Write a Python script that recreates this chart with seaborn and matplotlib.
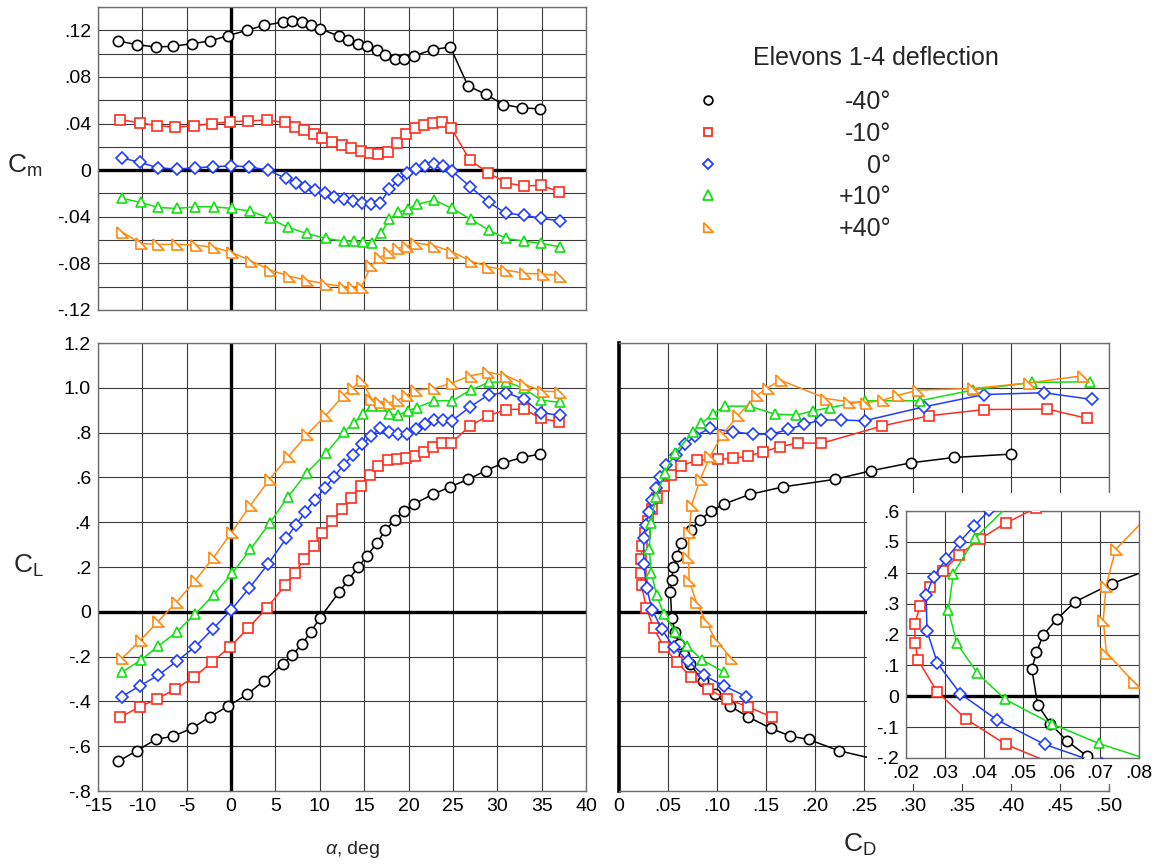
import numpy as np
import pandas as pd
import matplotlib
matplotlib.use("Agg")
import matplotlib.pyplot as plt
from matplotlib.ticker import MultipleLocator, FuncFormatter
from matplotlib.patches import Rectangle
import seaborn as sns

# ---------------------------------------------------------------- data
deflections = ["-40°", "-10°", "0°", "+10°", "+40°"]

alpha_m40 = [-12.7, -10.6, -8.5, -6.5, -4.4, -2.4, -0.3, 1.8, 3.7, 5.8, 6.9, 8.0, 9.0, 10.0,
             12.2, 13.2, 14.3, 15.3, 16.4, 17.4, 18.5, 19.5, 20.6, 22.7, 24.7, 26.7, 28.7,
             30.7, 32.8, 34.8]
cm_m40 = [.1108, .1077, .1057, .1063, .1086, .1108, .1155, .1200, .1243, .1269, .1277, .1269,
          .1243, .1214, .1149, .1114, .1086, .1063, .1029, .0986, .0957, .0957, .0980, .1034,
          .1057, .0723, .0651, .0563, .0534, .0526]
cl_m40 = [-.667, -.620, -.570, -.555, -.520, -.469, -.420, -.369, -.308, -.233, -.193, -.144,
          -.089, -.028, .089, .142, .198, .249, .305, .365, .412, .451, .481, .524, .558, .591,
          .630, .665, .689, .704]
cd_m40 = [.270, .2242, .1936, .1749, .1548, .1317, .1130, .0977, .0857, .0721, .0665, .0614,
          .0572, .0539, .0524, .0536, .0553, .0588, .0634, .0730, .0830, .0943, .1070, .1334,
          .1677, .2200, .2575, .2977, .3420, .4004]

alpha_m10 = [-12.5, -10.3, -8.4, -6.3, -4.2, -2.2, -0.1, 1.9, 4.0, 6.1, 7.2, 8.2, 9.3, 10.3,
             11.4, 12.5, 13.5, 14.6, 15.6, 16.6, 17.7, 18.7, 19.7, 20.7, 21.75, 22.8, 23.8,
             24.8, 26.9, 29.0, 31.0, 33.0, 34.9, 37.0]
cm_m10 = [.0434, .0406, .0383, .0369, .0380, .0400, .0414, .0423, .0429, .0409, .0371, .0343,
          .0306, .0272, .0243, .0214, .0186, .0163, .0143, .0137, .0157, .0234, .0306, .0363,
          .0386, .0406, .0414, .0363, .0086, -.0023, -.0109, -.0137, -.0129, -.0186]
cl_m10 = [-.471, -.424, -.390, -.345, -.293, -.226, -.156, -.074, .015, .119, .174, .234, .293,
          .353, .406, .458, .510, .561, .610, .652, .677, .680, .685, .695, .714, .737, .754,
          .752, .830, .875, .903, .905, .863, .848]
cd_m10 = [.1565, .1317, .1106, .0908, .0739, .0592, .0457, .0355, .0280, .0230, .0224, .0222,
          .0237, .0261, .0295, .0337, .0391, .0457, .0535, .0637, .0800, .1010, .1163, .1317,
          .1470, .1640, .1830, .2065, .2687, .3164, .3725, .4372, .4780, np.nan]

alpha_0 = [-12.33, -10.26, -8.19, -6.11, -4.04, -2.08, 0.0, 2.07, 4.14, 6.22, 7.27, 8.33, 9.42,
           10.55, 11.6, 12.67, 13.72, 14.74, 15.76, 16.78, 17.83, 18.85, 19.83, 20.85, 21.87,
           22.85, 23.83, 24.89, 26.96, 29.03, 31.03, 33.03, 34.91, 37.06]
cm_0 = [.0106, .0066, .0020, .0009, .0020, .0029, .0037, .0029, .0000, -.0071, -.0109, -.0143,
        -.0171, -.0200, -.0229, -.0251, -.0266, -.0286, -.0291, -.0280, -.0166, -.0086, -.0023,
        .0006, .0037, .0057, .0037, -.0006, -.0143, -.0277, -.0371, -.0386, -.0414, -.0434]
cl_0 = [-.379, -.330, -.283, -.220, -.156, -.077, .008, .107, .212, .328, .387, .444, .500, .551,
        .603, .655, .700, .747, .784, .819, .804, .793, .793, .814, .837, .856, .856, .853, .915,
        .970, .978, .948, .888, .878]
cd_0 = [.1300, .1068, .0864, .0704, .0557, .0435, .0340, .0281, .0254, .0252, .0271, .0303, .0338,
        .0375, .0415, .0484, .0585, .0670, .0773, .0926, .1163, .1367, .1555, .1725, .1888,
        .2065, .2270, .2507, .3112, .3725, .4337, .4827, np.nan, np.nan]

alpha_p10 = [-12.26, -10.18, -8.19, -6.11, -4.04, -1.97, 0.11, 2.18, 4.37, 6.4, 8.52, 10.67,
             12.74, 13.8, 14.82, 15.84, 16.9, 17.83, 18.85, 19.9, 20.93, 22.92, 24.92, 26.99,
             29.03, 31.03, 33.03, 34.91, 37.06]
cm_p10 = [-.0243, -.0277, -.0320, -.0329, -.0314, -.0314, -.0329, -.0351, -.0414, -.0491, -.0543,
          -.0586, -.0609, -.0609, -.0620, -.0629, -.0543, -.0423, -.0363, -.0334, -.0294, -.0257,
          -.0329, -.0420, -.0514, -.0586, -.0609, -.0629, -.0657]
cl_p10 = [-.268, -.216, -.153, -.089, -.010, .075, .171, .279, .397, .513, .620, .707, .804, .841,
          .883, .918, .918, .883, .878, .897, .912, .942, .942, .990, 1.024, 1.027, .997, .945,
          .935]
cd_p10 = [.1068, .0851, .0697, .0575, .0455, .0384, .0331, .0309, .0322, .0378, .0466, .0568,
          .0755, .0841, .0959, .1079, .1334, .1589, .1810, .1980, .2157, .2510, .3068, .3612,
          .4214, .4803, np.nan, np.nan, np.nan]

alpha_p40 = [-12.3, -10.2, -8.2, -6.1, -4.0, -1.9, 0.1, 2.2, 4.4, 6.5, 8.6, 10.7, 12.7, 13.7,
             14.7, 15.8, 16.8, 17.8, 18.8, 19.8, 20.8, 22.9, 24.9, 27.0, 29.0, 31.0, 33.1, 35.1,
             37.1]
cm_p40 = [-.0529, -.0629, -.0637, -.0637, -.0643, -.0663, -.0706, -.0777, -.0857, -.0909, -.0946,
          -.0977, -.1000, -.1000, -.1000, -.0814, -.0749, -.0700, -.0671, -.0651, -.0623, -.0649,
          -.0700, -.0780, -.0829, -.0857, -.0886, -.0891, -.0906]
cl_p40 = [-.208, -.126, -.042, .045, .1415, .246, .357, .476, .595, .695, .793, .878, .967, 1.000,
          1.034, .952, .937, .933, .945, .967, .990, .997, 1.022, 1.054, 1.069, 1.054, 1.015,
          .985, .982]
cd_p40 = [.1147, .0987, .0885, .0787, .0716, .0708, .0715, .0740, .0832, .0930, .1058, .1218,
          .1407, .1517, .1648, .2116, .2345, .2519, .2694, .2852, .3051, .3612, .4184, .4735,
          np.nan, np.nan, np.nan, np.nan, np.nan]

cm_ticks = [-.12, -.08, -.04, 0, .04, .08, .12]
cl_ticks = [-.8, -.6, -.4, -.2, 0, .2, .4, .6, .8, 1.0, 1.2]
alpha_ticks = [-15, -10, -5, 0, 5, 10, 15, 20, 25, 30, 35, 40]
cd_ticks = [0, .05, .10, .15, .20, .25, .30, .35, .40, .45, .50]
inset_cd_ticks = [.02, .03, .04, .05, .06, .07, .08]
inset_cl_ticks = [-.2, -.1, 0, .1, .2, .3, .4, .5, .6]

# ---------------------------------------------------------------- style
sns.set_style("white")
plt.rcParams["font.family"] = ["Liberation Sans", "DejaVu Sans"]
plt.rcParams["mathtext.fontset"] = "custom"
plt.rcParams["mathtext.rm"] = "Liberation Sans"
plt.rcParams["mathtext.it"] = "Liberation Sans:italic"
plt.rcParams["mathtext.default"] = "regular"

right_tri = [(-1, 1), (-1, -1), (1, -1), (-1, 1)]
styles = {
    "-40°": dict(color="#000000", marker="o", ms=7.4),
    "-10°": dict(color="#ff2d1f", marker="s", ms=7.2),
    "0°":   dict(color="#1f3dff", marker="D", ms=6.0),
    "+10°": dict(color="#10e010", marker="^", ms=7.8),
    "+40°": dict(color="#ff8a12", marker=right_tri, ms=8.0),
}

frames = []
for lab, a, cm, cl, cd in [
    ("-40°", alpha_m40, cm_m40, cl_m40, cd_m40),
    ("-10°", alpha_m10, cm_m10, cl_m10, cd_m10),
    ("0°", alpha_0, cm_0, cl_0, cd_0),
    ("+10°", alpha_p10, cm_p10, cl_p10, cd_p10),
    ("+40°", alpha_p40, cm_p40, cl_p40, cd_p40),
]:
    frames.append(pd.DataFrame({"deflection": lab, "alpha": a, "cm": cm, "cl": cl, "cd": cd}))
df = pd.concat(frames, ignore_index=True)

W, H = 1160, 865
fig = plt.figure(figsize=(W / 100, H / 100), dpi=100)


def px_axes(left, top, right, bottom):
    return fig.add_axes([left / W, 1 - bottom / H, (right - left) / W, (bottom - top) / H])


def no_lead_zero(decimals):
    """Tick labels written as .12 / -.4 / 1.0, with a bare 0 at zero."""
    def f(v, _=None):
        if abs(v) < 1e-9:
            return "0"
        s = f"{v:.{decimals}f}"
        if abs(v) < 1:
            s = s.replace("0.", ".", 1)
        return s
    return FuncFormatter(f)


GRID = "#3a3a3a"
SPINE = "#6e6e6e"


def style_axes(ax):
    ax.set_axisbelow(True)
    ax.grid(True, which="major", color=GRID, lw=0.8)
    for sp in ax.spines.values():
        sp.set_color(SPINE)
        sp.set_linewidth(1.0)
    ax.tick_params(which="both", direction="in", top=False, right=False,
                   labelsize=14, pad=5, colors="black")
    ax.tick_params(which="major", length=5, color=GRID)
    ax.tick_params(which="minor", length=5, color=GRID, width=0.8)
    ax.set_xlabel("")
    ax.set_ylabel("")


def draw(ax, xcol, ycol):
    for lab in deflections:
        st = styles[lab]
        sub = df[df["deflection"] == lab][[xcol, ycol]].dropna()
        sns.lineplot(data=sub, x=xcol, y=ycol, ax=ax, sort=False, estimator=None,
                     color=st["color"], marker=st["marker"], markersize=st["ms"],
                     markerfacecolor="white", markeredgecolor=st["color"],
                     markeredgewidth=1.2, linewidth=1.1, zorder=3, legend=False)


# ---------------------------------------------------------------- Cm vs alpha
ax_cm = px_axes(98, 7, 586, 310)
draw(ax_cm, "alpha", "cm")
ax_cm.set_xlim(-15, 40)
ax_cm.set_ylim(-0.12, 0.14)
ax_cm.xaxis.set_major_locator(MultipleLocator(5))
ax_cm.xaxis.set_minor_locator(MultipleLocator(1))
ax_cm.yaxis.set_major_locator(MultipleLocator(0.02))
ax_cm.yaxis.set_minor_locator(MultipleLocator(0.01))
ax_cm.xaxis.set_major_formatter(FuncFormatter(lambda v, p: ""))
_cm_fmt = no_lead_zero(2)
ax_cm.yaxis.set_major_formatter(FuncFormatter(
    lambda v, p: _cm_fmt(v) if any(abs(v - t) < 1e-6 for t in cm_ticks) else ""))
style_axes(ax_cm)
ax_cm.axhline(0, color="black", lw=2.4, zorder=2.5)
ax_cm.axvline(0, color="black", lw=2.4, zorder=2.5)

# ---------------------------------------------------------------- CL vs alpha
ax_cl = px_axes(98, 343, 586, 791)
draw(ax_cl, "alpha", "cl")
ax_cl.set_xlim(-15, 40)
ax_cl.set_ylim(-0.8, 1.2)
ax_cl.set_xticks(alpha_ticks)
ax_cl.set_yticks(cl_ticks)
ax_cl.xaxis.set_minor_locator(MultipleLocator(1))
ax_cl.yaxis.set_minor_locator(MultipleLocator(0.05))
ax_cl.xaxis.set_major_formatter(FuncFormatter(lambda v, p: f"{v:.0f}"))
ax_cl.yaxis.set_major_formatter(no_lead_zero(1))
style_axes(ax_cl)
ax_cl.axhline(0, color="black", lw=2.4, zorder=2.5)
ax_cl.axvline(0, color="black", lw=2.4, zorder=2.5)

# ---------------------------------------------------------------- CL vs CD
ax_cd = px_axes(619, 343, 1109, 791)
draw(ax_cd, "cd", "cl")
ax_cd.set_xlim(0, 0.5)
ax_cd.set_ylim(-0.8, 1.2)
ax_cd.set_xticks(cd_ticks)
ax_cd.set_yticks(cl_ticks)
ax_cd.xaxis.set_minor_locator(MultipleLocator(0.01))
ax_cd.yaxis.set_minor_locator(MultipleLocator(0.05))
ax_cd.xaxis.set_major_formatter(no_lead_zero(2))
ax_cd.yaxis.set_major_formatter(FuncFormatter(lambda v, p: ""))
style_axes(ax_cd)
ax_cd.spines["left"].set_color("black")
ax_cd.spines["left"].set_linewidth(2.6)
ax_cd.axhline(0, color="black", lw=2.4, zorder=2.5)

# white backing for the enlarged view
fig.add_artist(Rectangle((867 / W, 1 - 784 / H), (W - 867) / W, (784 - 493) / H,
                         transform=fig.transFigure, facecolor="white",
                         edgecolor="none", zorder=1))

# ---------------------------------------------------------------- inset (low drag)
ax_in = px_axes(906, 511, 1139, 758)
ax_in.set_zorder(2)
draw(ax_in, "cd", "cl")
ax_in.set_xlim(0.02, 0.08)
ax_in.set_ylim(-0.2, 0.6)
ax_in.set_xticks(inset_cd_ticks)
ax_in.set_yticks(inset_cl_ticks)
ax_in.xaxis.set_minor_locator(MultipleLocator(0.0025))
ax_in.yaxis.set_minor_locator(MultipleLocator(0.025))
ax_in.xaxis.set_major_formatter(no_lead_zero(2))
ax_in.yaxis.set_major_formatter(no_lead_zero(1))
style_axes(ax_in)
ax_in.tick_params(which="both", length=4)
ax_in.axhline(0, color="black", lw=2.4, zorder=2.5)

# ---------------------------------------------------------------- labels and key
lax = fig.add_axes([0, 0, 1, 1])
lax.set_zorder(3)
lax.set_xlim(0, W)
lax.set_ylim(H, 0)
lax.axis("off")

lax.text(25, 166, "C$_m$", fontsize=19, ha="center", va="center")
lax.text(28, 566, "C$_L$", fontsize=19, ha="center", va="center")
lax.text(860, 845, "C$_D$", fontsize=19, ha="center", va="center")
lax.text(353, 850, r"$\mathit{\alpha}$, deg", fontsize=14, ha="center", va="center")

lax.text(876, 58, "Elevons 1-4 deflection", fontsize=18, ha="center", va="center")
for i, lab in enumerate(deflections):
    y = 100 + i * 31.8
    st = styles[lab]
    lax.plot([708], [y], linestyle="none", marker=st["marker"], ms=st["ms"] * 0.85,
             mfc="white", mec=st["color"], mew=1.3)
    lax.text(891, y + 2, lab, fontsize=18, ha="right", va="center")

fig.savefig("out.png", dpi=100)
